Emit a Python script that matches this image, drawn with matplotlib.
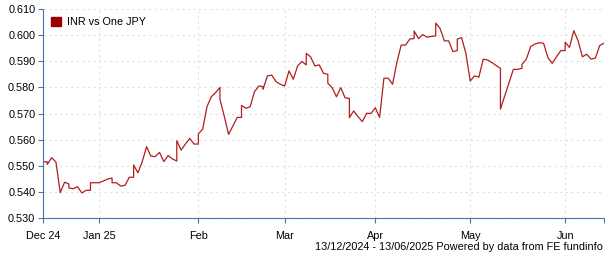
import numpy as np
import pandas as pd
from matplotlib import pyplot as plt
from matplotlib.patches import Patch

plt.rc('font', family=['Liberation Sans', 'DejaVu Sans'])
plt.rc('font', size=7.8)

# weekday closes 13/12/2024 - 13/06/2025
values = [0.5515, 0.5505, 0.5531, 0.5514, 0.5397, 0.5437, 0.5415, 0.5412, 0.5420, 0.5396,
          0.5406, 0.5435, 0.5435,
          0.5435, 0.5442, 0.5449, 0.5435, 0.5435, 0.5422, 0.5425, 0.5456, 0.5503, 0.5473,
          0.5516, 0.5573, 0.5537, 0.5535, 0.5551, 0.5516, 0.5539, 0.5526, 0.5596, 0.5560,
          0.5583, 0.5605, 0.5583,
          0.5622, 0.5640, 0.5726, 0.5764, 0.5780, 0.5754, 0.5690, 0.5620, 0.5652, 0.5685,
          0.5731, 0.5720, 0.5726, 0.5783, 0.5805, 0.5793, 0.5844, 0.5847, 0.5822, 0.5812,
          0.5805, 0.5863, 0.5831, 0.5882, 0.5899, 0.5930, 0.5917, 0.5882, 0.5886, 0.5854,
          0.5816, 0.5799, 0.5764, 0.5799, 0.5760, 0.5684, 0.5710, 0.5688, 0.5669, 0.5701,
          0.5700,
          0.5722, 0.5685, 0.5835, 0.5835, 0.5812, 0.5895, 0.5962, 0.5962, 0.5985, 0.6016,
          0.5987, 0.6002, 0.5992, 0.5995, 0.6046, 0.6026, 0.5978, 0.5978, 0.5937, 0.5985,
          0.5990, 0.5930,
          0.5824, 0.5844, 0.5839, 0.5908, 0.5905, 0.5895, 0.5884, 0.5717, 0.5767, 0.5818,
          0.5869, 0.5869, 0.5888, 0.5908, 0.5956, 0.5966, 0.5971, 0.5969, 0.5914, 0.5892,
          0.5917, 0.5941,
          0.5973, 0.5953, 0.6017, 0.5978, 0.5917, 0.5927, 0.5908, 0.5912, 0.5960, 0.5969]

# odd sunday quotes in the feed
sun_dates = ['2024-12-15', '2024-12-22', '2024-12-29', '2025-01-05', '2025-01-12',
             '2025-01-26', '2025-02-02', '2025-02-09', '2025-02-16', '2025-02-23',
             '2025-03-09', '2025-03-16', '2025-03-23', '2025-04-13', '2025-04-20',
             '2025-04-27', '2025-05-11', '2025-05-18', '2025-06-01']
sun_values = [0.5515, 0.5430, 0.5406, 0.5453, 0.5456, 0.5518, 0.5583, 0.5800, 0.5685, 0.5803,
              0.5886, 0.5850, 0.5758, 0.5987, 0.5997, 0.5941, 0.5873, 0.5873, 0.5941]

month_ticks = ['2024-12-13', '2025-01-01', '2025-02-03', '2025-03-03', '2025-04-01',
               '2025-05-01', '2025-06-02']
month_labels = ['Dec 24', 'Jan 25', 'Feb', 'Mar', 'Apr', 'May', 'Jun']

start = '2024-12-13'
end = '2025-06-13'
s = pd.Series(values, index=pd.bdate_range(start, end))
s = pd.concat([s, pd.Series(sun_values, index=pd.to_datetime(sun_dates))])
s = s.sort_index()

# trading-day axis
d = s.index.values.astype('datetime64[D]')
x = np.busday_count(np.datetime64(start), d)
xt = np.busday_count(np.datetime64(start), np.array(month_ticks, dtype='datetime64[D]'))
xend = np.busday_count(np.datetime64(start), np.datetime64(end))

fig = plt.figure(figsize=[6.05, 2.6], dpi=100)
ax = fig.add_axes([43/605, 1-218/260, 561/605, 209/260])
ax.plot(x, s.values, color='#b01e1e', lw=0.9)
ax.set_xlim(0, xend)
ax.set_ylim(0.530, 0.610)
ax.set_yticks(np.arange(0.530, 0.6101, 0.010))
ax.set_yticklabels(['{:.3f}'.format(v) for v in np.arange(0.530, 0.6101, 0.010)])
ax.set_xticks(list(xt) + [xend])
ax.set_xticklabels(month_labels + [''])
ax.grid(color='#e0e0e0', ls=(0, (2, 3)), lw=0.8)
for sp in ['top', 'right']:
    ax.spines[sp].set_visible(False)
for sp in ['left', 'bottom']:
    ax.spines[sp].set_color('#4a74a8')
ax.tick_params(axis='both', colors='#4a74a8', labelcolor='black', length=3.5, width=0.8, pad=2)
ax.tick_params(axis='x', pad=6)
ax.legend(handles=[Patch(color='#990000', label='INR vs One JPY')], loc='upper left',
          frameon=False, handlelength=1, handleheight=1, handletextpad=0.5,
          borderaxespad=0.3, fontsize=7.8)
fig.text(603/605, 1-247/260, '13/12/2024 - 13/06/2025 Powered by data from FE fundinfo',
         ha='right', va='center', fontsize=7.8)
plt.savefig('out.png', dpi=100)
